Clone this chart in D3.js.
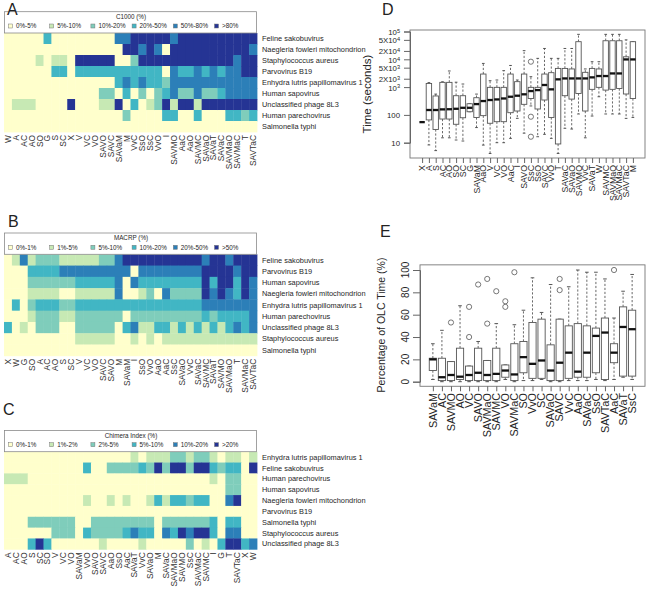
<!DOCTYPE html>
<html><head><meta charset="utf-8">
<script src="https://cdn.jsdelivr.net/npm/d3@7"></script>
<style>
body{margin:0;background:#fff}
svg{font-family:"Liberation Sans",Arial,Helvetica,sans-serif}
</style>
</head><body>
<svg id="c" width="650" height="590"></svg>
<script>
// ---------- DATA ----------
const palette = ["#ffffcc","#c7e9b4","#7fcdbb","#41b6c4","#2c7fb8","#253494"];

// Heatmap A (C1000)
const aTitle = "C1000 (%)";
const aLegend = ["0%-5%","5%-10%","10%-20%","20%-50%","50%-80%",">80%"];
const aCols = ["W","A","AC","AO","SO","G","S","SC","X","V","VC","VO","SAVO","SAVC","SAVaM","M","VvC","SsO","SsC","VvO","I","SAVMO","AaC","AaO","SAVMC","SAVaO","SAVaT","SAVaC","SAVMaO","SAVMaC","T","SAVTaC"];
const aRows = ["Feline sakobuvirus","Naegleria fowleri mitochondrion","Staphylococcus aureus","Parvovirus B19","Enhydra lutris papillomavirus 1","Human sapovirus","Unclassified phage 8L3","Human parechovirus","Salmonella typhi"];
const aValues = [
 [0,0,0,0,0,3,0,0,0,0,0,0,0,0,4,4,5,5,5,5,5,4,5,5,5,5,5,5,5,5,5,5],
 [0,0,0,0,0,0,0,0,0,0,0,0,0,0,0,5,5,4,5,4,0,5,5,5,5,5,5,5,5,5,5,4],
 [0,0,0,0,1,0,1,1,0,5,5,5,5,5,0,0,2,5,5,5,5,5,5,5,5,5,5,5,5,4,5,5],
 [0,0,0,0,0,0,3,3,0,3,3,3,3,3,3,3,3,3,3,3,0,4,3,3,4,3,4,3,4,4,5,5],
 [0,0,0,0,0,0,0,0,0,0,0,0,0,0,3,4,3,4,3,3,2,4,4,4,4,4,4,4,4,4,4,4],
 [0,0,0,0,0,0,0,0,0,0,0,0,2,2,0,3,0,2,0,2,3,4,2,2,4,2,2,3,4,4,4,4],
 [0,1,1,1,0,0,0,0,5,0,0,0,1,1,5,0,3,0,1,2,5,1,5,5,1,5,5,5,5,5,5,5],
 [0,0,0,0,0,0,0,0,0,0,0,0,0,0,0,2,0,0,0,0,3,3,0,0,3,0,0,0,3,3,2,3],
 [0,0,0,0,0,0,0,0,0,0,0,0,0,0,0,0,0,0,0,0,0,0,0,0,0,0,0,0,0,0,0,0]
];

// Heatmap B (MACRP)
const bTitle = "MACRP (%)";
const bLegend = ["0%-1%","1%-5%","5%-10%","10%-20%","20%-50%",">50%"];
const bCols = ["X","W","G","SO","A","AC","AO","S","SC","V","VC","VO","SAVC","SAVO","M","SAVaM","I","SsO","VvO","AaO","AaC","SsC","SAVaO","VvC","SAVaC","SAVMC","SAVaT","SAVMO","SAVMaO","T","SAVMaC","SAVTaC"];
const bRows = ["Feline sakobuvirus","Parvovirus B19","Human sapovirus","Naegleria fowleri mitochondrion","Enhydra lutris papillomavirus 1","Human parechovirus","Unclassified phage 8L3","Staphylococcus aureus","Salmonella typhi"];
const bValues = [
 [0,1,4,1,2,2,2,1,1,1,1,1,2,2,4,5,5,5,5,5,5,5,5,5,5,4,5,5,4,5,5,5],
 [0,0,0,3,3,3,3,4,4,4,4,4,4,4,4,4,0,4,4,4,4,4,4,4,4,5,5,5,5,4,5,5],
 [0,0,0,2,2,2,2,2,2,3,3,3,3,3,4,0,4,3,3,3,3,3,3,3,3,5,3,5,5,3,5,4],
 [0,0,0,1,1,1,1,0,0,1,1,1,1,1,4,0,0,1,2,0,4,2,2,2,2,5,4,5,4,3,5,4],
 [0,3,0,2,3,3,3,2,2,3,3,3,3,3,3,3,3,3,3,3,3,3,3,3,3,4,4,4,4,4,4,4],
 [0,0,0,1,2,2,2,1,1,2,2,2,2,2,2,0,2,2,2,2,2,2,2,2,2,3,2,3,3,3,3,4],
 [3,0,1,0,2,2,2,0,0,2,2,2,2,2,0,3,4,1,1,3,3,1,3,1,3,1,3,1,3,4,3,4],
 [0,0,0,0,0,0,0,0,0,1,1,1,1,1,0,0,1,0,1,0,1,1,1,1,1,1,1,1,1,1,1,1],
 [0,0,0,0,0,0,0,0,0,0,0,0,0,0,0,0,0,0,0,0,0,0,0,0,0,0,0,0,0,0,0,0]
];

// Heatmap C (Chimera Index)
const cTitle = "Chimera Index (%)";
const cLegend = ["0%-1%","1%-2%","2%-5%","5%-10%","10%-20%",">20%"];
const cCols = ["A","AC","AO","S","SC","SO","V","VC","VO","SAVaM","VvO","SAVO","SAVC","AaO","SsO","AaC","SAVaT","VvC","SAVaO","M","SAVaC","SAVMaO","SAVMO","SsC","SAVMaC","SAVMC","I","G","T","SAVTaC","X","W"];
const cRows = ["Enhydra lutris papillomavirus 1","Feline sakobuvirus","Human parechovirus","Human sapovirus","Naegleria fowleri mitochondrion","Parvovirus B19","Salmonella typhi","Staphylococcus aureus","Unclassified phage 8L3"];
const cValues = [
 [0,0,0,0,0,0,0,0,0,0,0,0,0,0,0,0,1,0,1,1,1,2,2,1,2,2,1,0,1,1,0,1],
 [0,0,0,0,0,0,0,0,0,0,3,0,0,2,2,2,2,3,2,5,2,5,5,2,5,5,3,2,3,3,0,5],
 [1,1,1,0,0,0,0,0,0,0,0,0,0,0,0,0,0,0,0,0,0,0,0,0,0,0,1,0,2,2,0,0],
 [0,0,0,0,0,0,0,0,0,0,0,0,0,0,0,0,0,0,0,0,0,0,0,0,0,0,0,0,2,2,0,0],
 [0,0,0,0,0,0,0,0,0,0,1,0,0,1,0,1,0,0,1,3,1,3,3,2,3,3,0,0,4,5,0,0],
 [0,0,0,0,0,0,0,0,0,0,0,0,0,0,0,0,0,0,0,0,0,0,0,0,0,0,0,0,0,0,0,0],
 [0,0,0,2,2,2,2,2,2,0,0,2,2,2,2,2,2,2,2,0,2,2,2,2,2,2,3,0,3,3,0,0],
 [0,0,0,0,0,0,2,2,2,0,3,2,2,2,2,3,4,3,3,0,4,3,5,4,5,5,3,0,4,4,0,0],
 [0,0,0,3,5,3,0,0,0,0,0,0,1,0,0,0,0,1,0,0,0,0,0,2,0,1,0,3,5,5,3,4]
];

// Boxplot D (Time, seconds)
const dCats = ["X","A","S","AC","AO","SO","SC","G","SAVaM","AaO","V","VC","VO","AaC","I","SAVO","SsC","SsO","SAVC","VvO","T","SAVaC","SAVaO","SAVMO","VvC","SAVaT","W","SAVMC","SAVMaO","SAVMaC","SAVTaC","M"];
const dLow  = [55,8.3,5.2,15,15,12.5,11.5,130,35,8.2,4.1,10,10,14.3,75,22,210,16.4,20,14.3,4.1,33,31,108,15,91,450,108,108,108,75,81];
const dQ1   = [55,66,30,71,71,46,79,130,81,94,50,57,57,120,138,240,390,163,343,81,9,490,370,590,138,830,980,780,830,890,565,390];
const dMed  = [55,150,150,158,160,166,180,180,245,315,343,360,390,450,490,550,720,780,1190,830,1900,2050,2050,2050,2050,2240,2500,2500,3100,3100,9900,9900];
const dQ3   = [55,1350,480,1480,1480,490,490,252,415,2950,980,980,980,2950,1570,2950,980,980,2950,3300,4700,4700,4500,43000,3400,4700,4500,46500,46500,46500,12300,43000];
const dHigh = [55,1450,560,1550,3800,1500,1290,252,560,7100,1700,1800,3900,6000,1800,20500,2370,10800,24500,10800,10800,24500,24500,79000,4500,8200,8200,79000,79000,79000,50000,43000];
const dOut  = [[],[],[],[],[],[],[],[],[],[],[],[],[],[],[],[],[8200,86,16.4],[],[],[],[],[],[],[],[],[],[],[],[],[],[],[]];
const dTickVals = [10,100,1000,2000,5000,10000,20000,50000,100000];
const dTickBase = ["10","100","10","2X10","5X10","10","2X10","5X10","10"];
const dTickSup  = ["","","3","3","3","4","4","4","5"];

// Boxplot E (Percentage of OLC Time)
const eCats = ["SAVaM","AC","SAVMO","AO","VC","SAVO","SAVMaO","SAVMC","VO","SAVMaC","SO","VvO","SC","SAVaO","SAVC","VvC","AaO","SAVaC","SsO","SAVTaC","AaC","SAVaT","SsC"];
const eLow  = [2,0,0,0,0,0,0,0,2,0,1,1,2,0,0,1,1,1,2,1,2,4,2];
const eQ1   = [10,1,1,2,1,1,1,1,4,1,8,3,3,1,1,3,4,4,8,2,17,5,5];
const eMed  = [20,4,6,4.5,6,8,6,7,10,6.5,22,16,19,10,17,26,9,26,41,44,26,49,47];
const eQ3   = [21,21,18,30,14,30,19,30,15,34,36,53,56,33,56,50,52,50,48,57,34,67,64];
const eHigh = [34,46,18,68,14,36,19,52,15,51,64,93,62,87,56,85,100,98,98,92,57,81,96];
const eOut  = [[],[],[53],[],[40,67],[87],[52,92],[81],[67,72],[98],[],[],[],[],[82,92],[],[],[],[],[],[100],[],[]];
const eTicks = [0,20,40,60,80,100];

// ---------- DRAW ----------
const svg = d3.select("#c");
const TXT = "#262626";

function heatmap(cols, rows, values, legend, title, top, bottom) {
  const g = svg.append("g");
  const x = d3.scaleBand().domain(cols).range([4, 257]);
  const y = d3.scaleBand().domain(rows).range([top, bottom]);
  rows.forEach((r, i) => {
    g.selectAll(null).data(values[i]).enter().append("rect")
      .attr("x", (d, j) => x(cols[j]))
      .attr("y", y(r))
      .attr("width", x.bandwidth() + 0.4)
      .attr("height", y.bandwidth() + 0.4)
      .attr("fill", d => palette[d]);
  });
  g.selectAll(null).data(rows).enter().append("text")
    .attr("x", 262).attr("y", d => y(d) + y.bandwidth() / 2)
    .attr("dy", "0.35em").attr("font-size", 7.4).attr("fill", TXT).text(d => d);
  g.selectAll(null).data(cols).enter().append("text")
    .attr("transform", d => `translate(${x(d) + x.bandwidth() / 2},${bottom + 3}) rotate(-90)`)
    .attr("dy", "0.35em").attr("text-anchor", "end")
    .attr("font-size", 8.4).attr("fill", "#333").text(d => d);
  const lt = top - 21.3;
  g.append("rect").attr("x", 4.5).attr("y", lt).attr("width", 252).attr("height", 21.3)
    .attr("fill", "#fff").attr("stroke", "#8a8a8a").attr("stroke-width", 0.8);
  g.append("text").attr("x", 131).attr("y", lt + 7.3).attr("text-anchor", "middle")
    .attr("font-size", 6.3).attr("fill", TXT).text(title);
  const lx = d3.scalePoint().domain(legend).range([10.5, 216.5]);
  const ly = lt + 14.3;
  g.selectAll(null).data(legend).enter().append("rect")
    .attr("x", d => lx(d) - 2).attr("y", ly - 2).attr("width", 4).attr("height", 4)
    .attr("fill", (d, i) => palette[i]).attr("stroke", "#777").attr("stroke-width", 0.5);
  g.selectAll(null).data(legend).enter().append("text")
    .attr("x", d => lx(d) + 5.5).attr("y", ly).attr("dy", "0.35em")
    .attr("font-size", 6.3).attr("fill", TXT).text(d => d);
}

heatmap(aCols, aRows, aValues, aLegend, aTitle, 33, 132);
heatmap(bCols, bRows, bValues, bLegend, bTitle, 254.3, 355.8);
heatmap(cCols, cRows, cValues, cLegend, cTitle, 451.7, 549.3);

// Panel letters
const letters = [["A",7,15],["B",8,227],["C",3,415],["D",382,15],["E",380,237]];
svg.selectAll(null).data(letters).enter().append("text")
  .attr("x", d => d[1]).attr("y", d => d[2]).attr("font-size", 16).attr("fill", "#222")
  .text(d => d[0]);

function boxplot(cats, low, q1, med, q3, high, outs, x, y, bw) {
  const g = svg.append("g");
  cats.forEach((c, i) => {
    const cx = x(i + 1);
    const gg = g.append("g");
    gg.append("line").attr("x1", cx).attr("x2", cx).attr("y1", y(q3[i])).attr("y2", y(high[i]))
      .attr("stroke", "#444").attr("stroke-dasharray", "2.2,1.8").attr("stroke-width", 0.8);
    gg.append("line").attr("x1", cx).attr("x2", cx).attr("y1", y(q1[i])).attr("y2", y(low[i]))
      .attr("stroke", "#444").attr("stroke-dasharray", "2.2,1.8").attr("stroke-width", 0.8);
    [low[i], high[i]].forEach(v => {
      gg.append("line").attr("x1", cx - bw / 4).attr("x2", cx + bw / 4).attr("y1", y(v)).attr("y2", y(v))
        .attr("stroke", "#444").attr("stroke-width", 0.9);
    });
    gg.append("rect").attr("x", cx - bw / 2).attr("width", bw)
      .attr("y", y(q3[i])).attr("height", Math.max(0, y(q1[i]) - y(q3[i])))
      .attr("fill", "#fff").attr("stroke", "#555").attr("stroke-width", 0.9);
    gg.append("line").attr("x1", cx - bw / 2).attr("x2", cx + bw / 2).attr("y1", y(med[i])).attr("y2", y(med[i]))
      .attr("stroke", "#111").attr("stroke-width", 2.3);
    outs[i].forEach(v => {
      gg.append("circle").attr("cx", cx).attr("cy", y(v)).attr("r", 2.6)
        .attr("fill", "none").attr("stroke", "#555").attr("stroke-width", 0.8);
    });
  });
}

// ---- Panel D ----
const dX = d3.scaleLinear().domain([-0.78, 33.78]).range([410, 645]);
const dY = d3.scaleLog().domain([10, 1e5]).range([142.7, 31.5]);
svg.append("rect").attr("x", 410).attr("y", 30).attr("width", 235).attr("height", 128)
  .attr("fill", "none").attr("stroke", "#777").attr("stroke-width", 0.9);
boxplot(dCats, dLow, dQ1, dMed, dQ3, dHigh, dOut, dX, dY, 5.4);
const dYA = svg.append("g").attr("transform", "translate(410,0)")
  .call(d3.axisLeft(dY).tickValues(dTickVals).tickSize(6).tickPadding(3).tickFormat(""));
dYA.select(".domain").attr("stroke", "#666");
dYA.selectAll("line").attr("stroke", "#666");
dYA.selectAll(".tick").each(function(d, i) {
  const t = d3.select(this).append("text").attr("x", -10).attr("dy", "0.38em")
    .attr("text-anchor", "end").attr("font-size", 7.8).attr("fill", TXT)
    .attr("font-family", "'Liberation Sans',Arial,sans-serif");
  t.append("tspan").text(dTickBase[i]);
  if (dTickSup[i]) t.append("tspan").attr("dy", "-0.4em").attr("font-size", 5.6).text(dTickSup[i]);
});
const dXA = svg.append("g").attr("transform", "translate(0,158)")
  .call(d3.axisBottom(dX).tickValues(d3.range(1, dCats.length + 1)).tickSize(5).tickFormat(""));
dXA.select(".domain").remove();
dXA.selectAll("line").attr("stroke", "#666");
svg.selectAll(null).data(dCats).enter().append("text")
  .attr("transform", (d, i) => `translate(${dX(i + 1)},165) rotate(-90)`)
  .attr("dy", "0.35em").attr("text-anchor", "end").attr("font-size", 8.8).attr("fill", TXT).text(d => d);
svg.append("text").attr("transform", "translate(371,94) rotate(-90)")
  .attr("text-anchor", "middle").attr("font-size", 11.5).attr("fill", TXT).text("Time (seconds)");

// ---- Panel E ----
const eX = d3.scaleLinear().domain([-0.42, 24.42]).range([420, 645]);
const eY = d3.scaleLinear().domain([0, 100]).range([381.7, 270]);
svg.append("rect").attr("x", 420).attr("y", eY(104.6)).attr("width", 225).attr("height", eY(-4.1) - eY(104.6))
  .attr("fill", "none").attr("stroke", "#777").attr("stroke-width", 0.9);
boxplot(eCats, eLow, eQ1, eMed, eQ3, eHigh, eOut, eX, eY, 7.2);
const eYA = svg.append("g").attr("transform", "translate(420,0)")
  .call(d3.axisLeft(eY).tickValues(eTicks).tickSize(7).tickFormat(""));
eYA.select(".domain").attr("stroke", "#666");
eYA.selectAll("line").attr("stroke", "#666");
svg.selectAll(null).data(eTicks).enter().append("text")
  .attr("transform", d => `translate(409,${eY(d)}) rotate(-90)`)
  .attr("text-anchor", "middle").attr("font-size", 10).attr("fill", TXT).text(d => d);
const eXA = svg.append("g").attr("transform", `translate(0,${eY(-4.1)})`)
  .call(d3.axisBottom(eX).tickValues(d3.range(1, eCats.length + 1)).tickSize(5).tickFormat(""));
eXA.select(".domain").remove();
eXA.selectAll("line").attr("stroke", "#666");
svg.selectAll(null).data(eCats).enter().append("text")
  .attr("transform", (d, i) => `translate(${eX(i + 1)},393) rotate(-90)`)
  .attr("dy", "0.35em").attr("text-anchor", "end").attr("font-size", 10.8).attr("fill", TXT).text(d => d);
svg.append("text").attr("transform", "translate(385,325) rotate(-90)")
  .attr("text-anchor", "middle").attr("font-size", 10.5).attr("fill", TXT).text("Percentage of OLC Time (%)");
</script>
</body></html>
